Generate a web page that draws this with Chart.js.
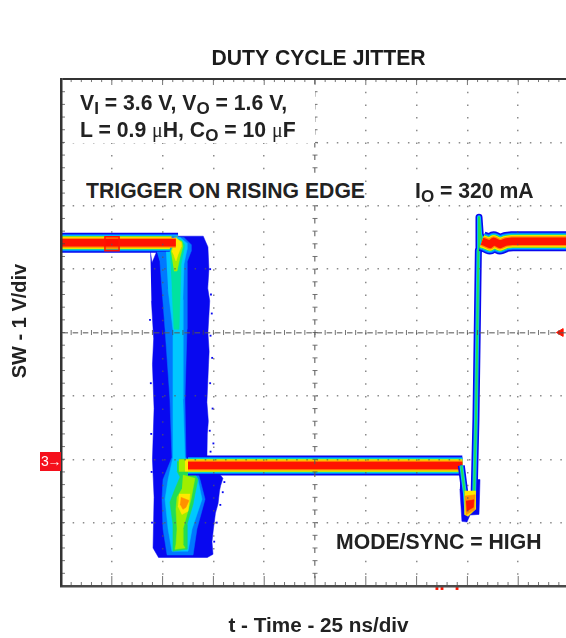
<!DOCTYPE html>
<html>
<head>
<meta charset="utf-8">
<script src="https://cdn.jsdelivr.net/npm/chart.js@4"></script>
<style>
  html, body { margin: 0; padding: 0; background: #fff; width: 566px; height: 638px; overflow: hidden; }
  #wrap { position: relative; width: 576px; height: 638px; filter: blur(0.45px); }
  canvas { position: absolute; left: 0; top: 0; }
  .note { position: absolute; font: bold 21.2px "Liberation Sans", Arial, sans-serif; color: #222; background: #fff; white-space: nowrap; line-height: 25px; }
  .note sub { font-size: 17px; line-height: 0; vertical-align: -4px; }
  .note i { font: normal 20px "Liberation Serif", serif; }
  #ch3 { position: absolute; left: 40px; top: 452px; width: 21px; height: 19px; background: #f5101c; color: #fff; font: 14px/19px "Liberation Sans", sans-serif; letter-spacing: -1.5px; text-align: center; white-space: nowrap; overflow: hidden; }
</style>
</head>
<body>
<div id="wrap">
  <canvas id="scope" width="576" height="638"></canvas>
  <div class="note" style="left:66px;top:85px;width:249px;height:58px;padding:5px 0 0 14px;box-sizing:border-box;line-height:26.5px">V<sub>I</sub> = 3.6 V, V<sub>O</sub> = 1.6 V,<br>L = 0.9 <i>&#956;</i>H, C<sub>O</sub> = 10 <i>&#956;</i>F</div>
  <div class="note" style="left:86px;top:178px">TRIGGER ON RISING EDGE</div>
  <div class="note" style="left:415px;top:178px">I<sub>O</sub> = 320 mA</div>
  <div class="note" style="left:336px;top:529px">MODE/SYNC = HIGH</div>
  <div class="note" style="left:18.5px;top:321px;background:none;font-size:20px;transform:translate(-50%,-50%) rotate(-90deg)">SW - 1 V/div</div>
  <div id="ch3">3&#8594;</div>
</div>
<script>
// time in ns, level in V (25 ns/div, 1 V/div, 0 V at the channel 3 marker)
const highLevel = [[0, 3.415], [57.6, 3.415]];
const highCore = [[0, 3.415], [56.5, 3.415]];
const lowLevel = [[62.5, -0.1], [197.5, -0.1]];
const lowLime = [[58, -0.1], [197.5, -0.1]];
const lowYellow = [[61, -0.1], [197.5, -0.1]];
const lowCore = [[62.5, -0.1], [197.5, -0.1]];
const highRight = [[207.2, 3.44], [209, 3.42], [211, 3.39], [213, 3.44], [216, 3.39], [219, 3.43], [222, 3.44], [253, 3.44]];
const riseEdge = [[197, -0.1], [198.8, -0.55], [199.5, -0.85], [203.2, -0.7], [204.2, 0.63], [204.9, 2.16], [205.4, 3.3], [205.7, 3.82], [206.3, 3.55], [207.5, 3.42]];
const jitterBlue = [[44, 3.27], [44.8, 3.1], [47, 3.27], [57.6, 3.52], [70, 3.52], [72.3, 3.35], [72.8, 3], [72.2, 2.7], [73.2, 2.5], [72.3, 2], [72.9, 1.7], [72.6, 1.5], [71.8, 0.9], [72.5, 0.6], [72, 0.4], [71.8, 0], [79.7, -0.3], [78.5, -0.42], [78, -0.5], [77.3, -0.7], [76, -0.85], [75, -1.1], [74.3, -1.3], [74.8, -1.5], [72, -1.55], [48, -1.55], [45.3, -1.4], [45.8, -0.6], [45, 0], [45.8, 0.8], [45, 1.5], [45.6, 1.9], [44.5, 2.5]];
const jitterMid = [[47.2, 3.27], [53.6, 3.27], [54.6, 3.52], [60.5, 3.5], [64, 3.39], [64, 3.28], [62, 3.11], [62, 2.05], [61, 0.95], [61.5, 0.03], [66.9, -0.16], [68.4, -0.32], [70.9, -0.63], [66.9, -1.1], [65, -1.51], [52.2, -1.51], [50.2, -1.1], [49.7, -0.63], [50.2, -0.32], [54.6, 0.03], [53.6, 0.95], [51.2, 2.05], [48.7, 3.11]];
const jitterCyan = [[51.7, 3.27], [54.6, 3.27], [55.6, 3.5], [58.6, 3.5], [62, 3.41], [62, 3.31], [60.5, 3.08], [60, 2.52], [60, 0.95], [61, 0.03], [67.4, -0.32], [69.4, -0.63], [64.5, -1.1], [62.5, -1.45], [54.6, -1.45], [52.7, -1.1], [51.2, -0.63], [52.7, -0.32], [55.1, 0.03], [55.1, 0.95], [55.1, 2.05], [52.7, 2.68]];
const jitterTeal = [[53.6, 3.27], [56.1, 3.47], [59.1, 3.47], [61, 3.38], [59.1, 3.08], [58.6, 2.52], [58.1, 2.05], [55.6, 2.05], [54.6, 2.68]];
const jitterTopLime = [[54.1, 3.28], [56.6, 3.47], [59.5, 3.44], [60, 3.36], [58.6, 3.19], [57.1, 2.97], [55.6, 2.97]];
const jitterTopYellow = [[54.6, 3.28], [56.6, 3.5], [59.1, 3.42], [59.1, 3.35], [57.6, 3.23], [56.6, 3.13], [55.6, 3.21]];
const jitterGreen = [[57.1, -0.03], [62.5, -0.08], [67.4, -0.32], [65.9, -0.55], [65, -0.71], [62, -1.03], [62, -1.42], [55.1, -1.45], [55.1, -1.03], [53.6, -0.68], [56.1, -0.47], [58.6, -0.28], [57.1, -0.19]];
const jitterLime = [[60, -0.25], [65.9, -0.3], [64, -0.63], [62, -0.87], [60, -1.1], [60, -1.34], [61, -1.4], [56.1, -1.42], [56.6, -1.34], [57.1, -1.1], [56.6, -0.79], [57.1, -0.6], [59.5, -0.47]];
const jitterYellow = [[58.1, -0.55], [63.5, -0.55], [62.5, -0.82], [59.5, -0.87], [57.6, -0.74]];
const jitterOrange = [[59, -0.6], [63, -0.65], [61.5, -0.76], [60, -0.79], [58.6, -0.71]];
const speckles = [[73.4, 3], [73.8, 2.6], [74.2, 2.3], [73.6, 1.95], [74.4, 1.6], [73.4, 1.2], [74.6, 0.8], [73.2, 0.45], [75, 0.25], [73.6, 0.12], [80.4, -0.36], [79.6, -0.52], [78.4, -0.72], [76.6, -1], [75.4, -1.3], [44.4, 0.4], [44.2, 1.2], [43.8, 2.2], [44.8, -1], [44.6, -0.2]];
const dipBlue = [[196.8, -0.08], [199.8, -0.55], [202.3, -0.55], [203.2, -0.32], [206.2, -0.32], [205.7, -0.87], [201.3, -0.88], [199.8, -0.99], [197.3, -0.98], [196.3, -0.47]];
const dipYellow = [[198.6, -0.5], [203.9, -0.5], [204, -0.79], [200.3, -0.9], [198.5, -0.87]];
const dipOrange = [[198.7, -0.58], [203.8, -0.56], [203.5, -0.8], [199.2, -0.88]];
const dipRed = [[199.3, -0.66], [203.2, -0.64], [202.8, -0.76], [199.6, -0.82]];
const edgeMarks = [[185, -2.04], [187.5, -2.04], [194.9, -2.04]];
const channelMark = [[25.1, 3.4]];
const triggerMark = [[246, 2]];

const xTickStep = 5;
const yTickStep = 0.2;

const BLUE = "#0808f0", MID = "#0078ff", CYAN = "#00c8ff", TEAL = "#00e2a0", GREEN = "#22dd55", LIME = "#a0ee00", YELLOW = "#ffe800", ORANGE = "#ff9000", RED = "#ff1400";

function pts(list) {
  return list.map((p) => ({ x: p[0], y: p[1] }));
}
function band(list, color, width) {
  return { data: pts(list), showLine: true, borderColor: color, borderWidth: width, pointRadius: 0, tension: 0, fill: false, borderCapStyle: "butt", borderJoinStyle: "round" };
}
function area(list, color) {
  return { data: pts(list), showLine: true, borderColor: color, borderWidth: 0.5, backgroundColor: color, fill: "shape", pointRadius: 0, tension: 0 };
}

const outerLayers = [[BLUE, 20], [MID, 17], [CYAN, 15]];
const limeLayers = [[GREEN, 13.5], [LIME, 12.5]];
const yellowLayer = [[YELLOW, 12]];
const coreLayers = [[ORANGE, 10], [RED, 7.5]];
const thinLayers = [[BLUE, 7], [CYAN, 3.8], [GREEN, 2]];
const allLayers = outerLayers.concat(limeLayers, yellowLayer);

function layered(list, layers) {
  return layers.map((l) => band(list, l[0], l[1]));
}

let datasets = [
  { data: pts(speckles), pointStyle: "rect", pointRadius: 1.3, pointBorderWidth: 0, pointBackgroundColor: BLUE },
  area(jitterBlue, BLUE),
  ...layered(highLevel, allLayers),
  area(jitterMid, MID),
  area(jitterCyan, CYAN),
  area(jitterTeal, TEAL),
  area(jitterTopLime, LIME),
  area(jitterTopYellow, YELLOW),
  area(jitterGreen, GREEN),
  area(jitterLime, LIME),
  area(jitterYellow, YELLOW),
  area(jitterOrange, ORANGE),
  ...layered(highCore, coreLayers),
  ...layered(lowLevel, outerLayers),
  ...layered(lowLime, limeLayers),
  ...layered(lowYellow, yellowLayer),
  ...layered(lowCore, coreLayers),
  area(dipBlue, BLUE),
  ...layered(riseEdge, thinLayers),
  area(dipYellow, YELLOW),
  area(dipOrange, ORANGE),
  area(dipRed, RED),
  ...layered(highRight, allLayers),
  ...layered(highRight, coreLayers),
  { data: pts(channelMark), pointStyle: "rect", pointRadius: 10, pointBorderColor: RED, pointBorderWidth: 1.5, pointBackgroundColor: "rgba(255,0,0,0.3)" },
  { data: pts(triggerMark), pointStyle: "triangle", rotation: -90, pointRadius: 4.5, pointBackgroundColor: RED, pointBorderColor: RED },
  { data: pts(edgeMarks), clip: false, pointStyle: "rect", pointRadius: 2, pointBorderWidth: 0, pointBackgroundColor: RED },
];
// first dataset in the list is drawn last
datasets.reverse();

function isMajor(v) {
  return Math.abs(v - Math.round(v)) < 1e-6;
}

const graticule = {
  id: "graticule",
  afterDatasetsDraw(chart) {
    const { ctx, scales, chartArea } = chart;
    const cx = scales.x.getPixelForValue(125);
    const cy = scales.y.getPixelForValue(2);
    ctx.save();
    ctx.strokeStyle = "rgba(70,70,70,0.75)";
    ctx.lineWidth = 1;
    ctx.beginPath();
    scales.x.ticks.forEach((t) => {
      const px = scales.x.getPixelForValue(t.value);
      const big = t.value % 25 === 0;
      ctx.moveTo(px, chartArea.top);
      ctx.lineTo(px, chartArea.top + (big ? 6 : 3));
      ctx.moveTo(px, chartArea.bottom);
      ctx.lineTo(px, chartArea.bottom - (big ? 10 : 4));
      ctx.moveTo(px, cy - 2.5);
      ctx.lineTo(px, cy + 2.5);
    });
    scales.y.ticks.forEach((t) => {
      const py = scales.y.getPixelForValue(t.value);
      ctx.moveTo(chartArea.left, py);
      ctx.lineTo(chartArea.left + 4, py);
      ctx.moveTo(cx - 2.5, py);
      ctx.lineTo(cx + 2.5, py);
    });
    ctx.stroke();
    ctx.restore();
  },
};

new Chart(document.getElementById("scope"), {
  type: "scatter",
  data: { datasets: datasets },
  plugins: [graticule],
  options: {
    responsive: false,
    animation: false,
    layout: { padding: 0, autoPadding: false },
    plugins: {
      legend: { display: false },
      tooltip: { enabled: false },
      title: {
        display: true,
        text: "DUTY CYCLE JITTER",
        fullSize: false,
        color: "#1c1c1c",
        font: { family: "Liberation Sans", size: 21.2, weight: "bold", lineHeight: 1.2 },
        padding: { top: 46, bottom: 7.6 },
      },
    },
    scales: {
      x: {
        type: "linear",
        min: 0,
        max: 253.44,
        afterFit: (s) => { s.height = 52; },
        title: {
          display: true,
          text: "t - Time - 25 ns/div",
          color: "#222",
          font: { family: "Liberation Sans", size: 20.7, weight: "bold", lineHeight: 1.1 },
          padding: { top: 0, bottom: 0 },
        },
        ticks: { display: false, stepSize: xTickStep, autoSkip: false, includeBounds: false },
        border: {
          display: true,
          z: 1,
          color: "#4a4a4a",
          width: 2.5,
          dash: (c) => (c.tick && c.tick.value === 125 ? [5, 7.675] : [1.5, 11.175]),
        },
        grid: {
          z: 1,
          drawTicks: false,
          lineWidth: 1.5,
          color: (c) => (c.tick && c.tick.value % 25 === 0 && c.tick.value > 0 ? "rgba(90,90,90,0.7)" : "rgba(0,0,0,0)"),
        },
      },
      y: {
        type: "linear",
        min: -2,
        max: 6,
        afterFit: (s) => { s.width = 61; },
        ticks: { display: false, stepSize: yTickStep, autoSkip: false },
        border: {
          display: true,
          z: 1,
          color: "#333",
          width: 2.5,
          dash: (c) => {
            if (!c.tick) return [];
            if (c.tick.value > 5.9) return [];
            return Math.abs(c.tick.value - 2) < 1e-6 ? [5.5, 4.66] : [1.5, 8.66];
          },
        },
        grid: {
          z: 1,
          drawTicks: false,
          lineWidth: (c) => (c.tick && c.tick.value > 5.9 ? 2 : 1.5),
          color: (c) => {
            if (!c.tick) return "rgba(0,0,0,0)";
            if (c.tick.value > 5.9) return "#333";
            return isMajor(c.tick.value) && c.tick.value > -1.9 ? "rgba(90,90,90,0.7)" : "rgba(0,0,0,0)";
          },
        },
      },
    },
  },
});
</script>
</body>
</html>
